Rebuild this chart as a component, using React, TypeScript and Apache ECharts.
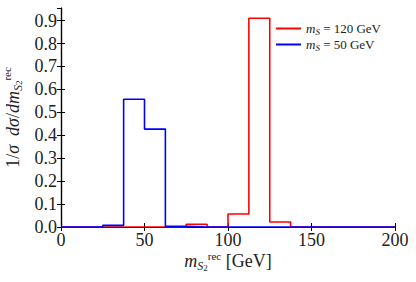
import React, { useEffect, useRef } from "react";
import * as echarts from "echarts";

const binEdges = [0, 12.5, 25, 37.5, 50, 62.5, 75, 87.5, 100, 112.5, 125, 137.5, 150, 162.5, 175, 187.5, 200];
const red120 = [0, 0, 0, 0, 0, 0, 0.012, 0, 0.057, 0.91, 0.022, 0, 0, 0, 0, 0];
const blue50 = [0, 0, 0.007, 0.557, 0.427, 0.003, 0, 0, 0, 0, 0, 0, 0, 0, 0, 0];
const xTicks = [0, 50, 100, 150, 200];
const yTicks = [0, 0.1, 0.2, 0.3, 0.4, 0.5, 0.6, 0.7, 0.8, 0.9];
const seriesNames = ["m_S = 120 GeV", "m_S = 50 GeV"];

const FONT = "Liberation Serif";
const TXT = "#222";

function steps(vals: number[]) {
  const pts: [number, number][] = vals.map((v, i) => [binEdges[i], v]);
  pts.push([binEdges[binEdges.length - 1], vals[vals.length - 1]]);
  return pts;
}

const nameRich = {
  i: { fontFamily: FONT, fontStyle: "italic", fontSize: 18, color: TXT },
  sub: { fontFamily: FONT, fontStyle: "italic", fontSize: 12, color: TXT, verticalAlign: "bottom", lineHeight: 22 },
  sub2: { fontFamily: FONT, fontSize: 9, color: TXT, verticalAlign: "bottom", lineHeight: 20 },
  sup: { fontFamily: FONT, fontSize: 11, color: TXT, verticalAlign: "top", lineHeight: 22 },
  n: { fontFamily: FONT, fontSize: 18, color: TXT },
};

export default function App() {
  const ref = useRef<HTMLDivElement>(null);
  useEffect(() => {
    const chart = echarts.init(ref.current!, null, { renderer: "svg" });
    const axisCommon = {
      axisLine: { show: true, lineStyle: { color: "#000", width: 1.2 } },
      axisTick: { show: true, inside: true, length: 4, lineStyle: { color: "#000", width: 1 } },
      splitLine: { show: false },
    };
    chart.setOption({
      animation: false,
      grid: { left: 61, right: 21, top: 8, bottom: 55, outerBoundsMode: "none", containLabel: false },
      legend: {
        orient: "vertical",
        left: 271,
        top: 16,
        itemGap: 1,
        itemWidth: 25,
        itemHeight: 2,
        icon: "rect",
        data: seriesNames,
        formatter: (name: string) => {
          const rest = name.replace("m_S", "");
          return "{i|m}{s|S}{n|" + rest + "}";
        },
        textStyle: {
          fontFamily: FONT,
          fontSize: 13,
          color: TXT,
          lineHeight: 14,
          rich: {
            i: { fontFamily: FONT, fontStyle: "italic", fontSize: 13, color: TXT },
            s: { fontFamily: FONT, fontStyle: "italic", fontSize: 9, color: TXT, verticalAlign: "bottom", lineHeight: 15 },
            n: { fontFamily: FONT, fontSize: 13, color: TXT },
          },
        },
      },
      xAxis: [
        {
          type: "value",
          min: 0,
          max: 200,
          interval: 50,
          position: "bottom",
          ...axisCommon,
          axisLabel: {
            fontFamily: FONT,
            fontSize: 18,
            color: TXT,
            margin: 4,
            formatter: (v: number) => (xTicks.includes(v) ? String(v) : ""),
          },
          name: "{i|m}{sub|S}{sub2|2}{sup|rec}{n| [GeV]}",
          nameLocation: "middle",
          nameGap: 23,
          nameMoveOverlap: false,
          nameTextStyle: { fontFamily: FONT, fontSize: 18, color: TXT, lineHeight: 22, rich: nameRich },
        },
        {
          type: "value",
          min: 0,
          max: 200,
          interval: 50,
          position: "top",
          ...axisCommon,
          axisLabel: { show: false },
        },
      ],
      yAxis: [
        {
          type: "value",
          min: 0,
          max: 0.955,
          interval: 0.1,
          position: "left",
          ...axisCommon,
          axisLabel: {
            fontFamily: FONT,
            fontSize: 18,
            color: TXT,
            margin: 4,
            showMaxLabel: false,
            formatter: (v: number) => (yTicks.some((t) => Math.abs(t - v) < 1e-6) ? v.toFixed(1) : ""),
          },
          name: "{n|1/}{i|σ  dσ}{n|/}{i|dm}{sub|S}{sub2|2}{sup|rec}",
          nameLocation: "middle",
          nameGap: 27,
          nameTextStyle: { fontFamily: FONT, fontSize: 18, color: TXT, lineHeight: 22, rich: nameRich },
        },
        {
          type: "value",
          min: 0,
          max: 0.955,
          interval: 0.1,
          position: "right",
          ...axisCommon,
          axisLabel: { show: false },
        },
      ],
      series: [
        {
          name: seriesNames[0],
          type: "line",
          step: "end",
          showSymbol: false,
          data: steps(red120),
          lineStyle: { color: "#ff0000", width: 1.6 },
          itemStyle: { color: "#ff0000" },
        },
        {
          name: seriesNames[1],
          type: "line",
          step: "end",
          showSymbol: false,
          data: steps(blue50),
          lineStyle: { color: "#0000ff", width: 1.6 },
          itemStyle: { color: "#0000ff" },
        },
      ],
    });
    return () => chart.dispose();
  }, []);
  return <div ref={ref} style={{ width: 416, height: 282, position: "absolute", left: 0, top: 0 }} />;
}
